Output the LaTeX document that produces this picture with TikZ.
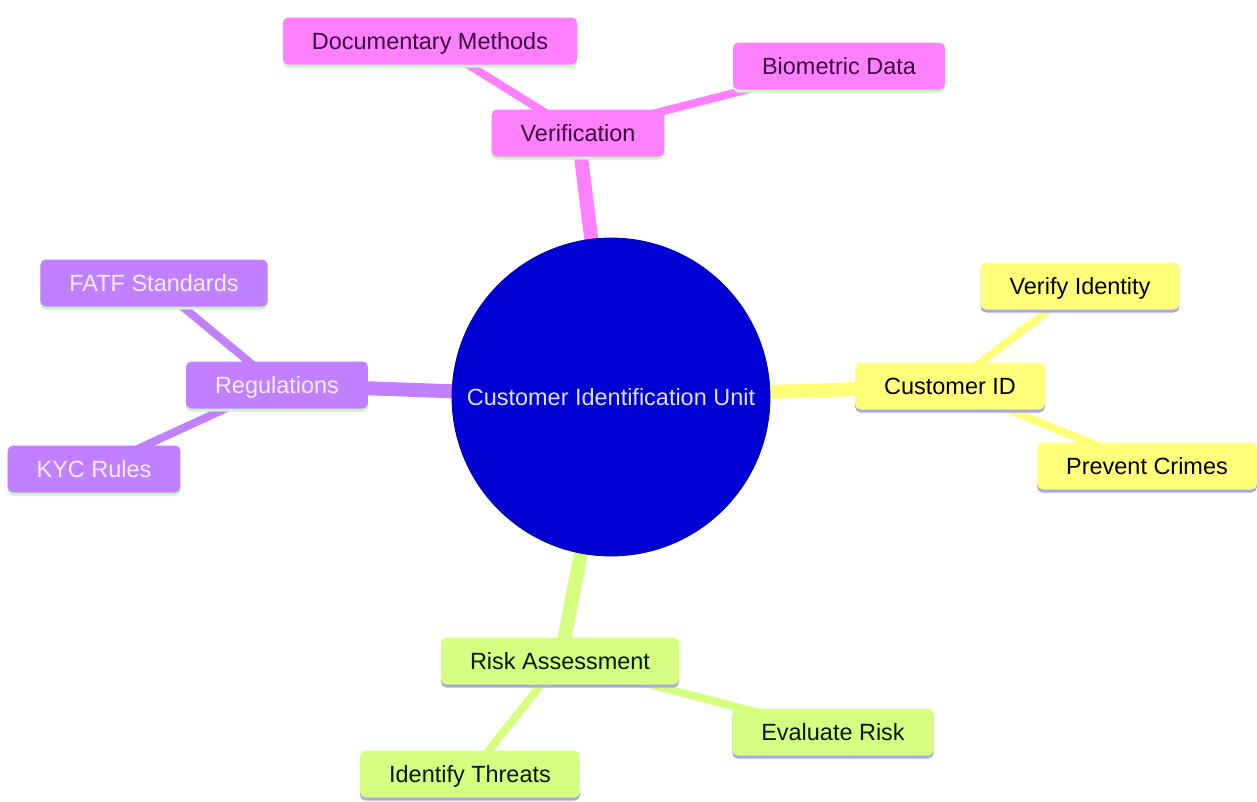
\documentclass[tikz,border=0pt]{standalone}
\usepackage{fontspec}
\setmainfont{Liberation Sans}
\usetikzlibrary{backgrounds,shadows}
\definecolor{pinkF}{HTML}{FF80FF}
\definecolor{pinkT}{HTML}{3A0A3A}
\definecolor{purpF}{HTML}{C080FF}
\definecolor{purpT}{HTML}{F8ECFF}
\definecolor{yelF}{HTML}{FFFF7A}
\definecolor{grnF}{HTML}{D5FF80}
\definecolor{lineG}{HTML}{C8F5C0}
\definecolor{lineL}{HTML}{A8A8E6}
\definecolor{centF}{HTML}{0000D4}
\definecolor{centT}{HTML}{E0E0FF}
\tikzset{
  x=0.75pt, y=-0.75pt,
  txt/.style={font=\fontsize{17.6}{20}\selectfont},
  mbox/.style={txt, rectangle, rounded corners=4pt, inner xsep=21.75pt, inner ysep=0pt,
    minimum height=35.25pt, text height=15.4pt, text depth=2.8pt},
  pinkbox/.style={mbox, fill=pinkF, text=pinkT, general shadow={shadow yshift=-2.25pt, fill=lineG}},
  purpbox/.style={mbox, fill=purpF, text=purpT, general shadow={shadow yshift=-2.25pt, fill=lineG}},
  yelbox/.style={mbox, fill=yelF, text=black, general shadow={shadow yshift=-2.25pt, fill=lineL}},
  grnbox/.style={mbox, fill=grnF, text=black!90!green, general shadow={shadow yshift=-2.25pt, fill=lineL}},
  mainedge/.style={line width=10.5pt},
  subedge/.style={line width=6pt},
}
\begin{document}
\begin{tikzpicture}
\useasboundingbox (0,0) rectangle (1257,801);
\node[circle, fill=centF, draw=centF!80!black, line width=0.6pt, minimum size=238.5pt, inner sep=0pt, txt, text=centT] (root) at (611,397) {Customer Identification Unit};

\node[pinkbox] (ver) at (578,133) {Verification};
\node[pinkbox] (doc) at (430,41) {Documentary Methods};
\node[pinkbox] (bio) at (839,66) {Biometric Data};

\node[purpbox] (reg) at (277,385) {Regulations};
\node[purpbox] (fatf) at (154,283) {FATF Standards};
\node[purpbox] (kyc) at (94,469) {KYC Rules};

\node[yelbox] (cid) at (950,386) {Customer ID};
\node[yelbox] (vid) at (1080,286) {Verify Identity};
\node[yelbox] (pc) at (1147,466) {Prevent Crimes};

\node[grnbox] (risk) at (560,661) {Risk Assessment};
\node[grnbox] (eval) at (833,732) {Evaluate Risk};
\node[grnbox] (thr) at (470,774) {Identify Threats};

\begin{pgfonlayer}{background}
\draw[mainedge, pinkF] (root.center) -- (ver.center);
\draw[subedge, pinkF] (ver.center) -- (doc.center);
\draw[subedge, pinkF] (ver.center) -- (bio.center);
\draw[mainedge, purpF] (root.center) -- (reg.center);
\draw[subedge, purpF] (reg.center) -- (fatf.center);
\draw[subedge, purpF] (reg.center) -- (kyc.center);
\draw[mainedge, yelF] (root.center) -- (cid.center);
\draw[subedge, yelF] (cid.center) -- (vid.center);
\draw[subedge, yelF] (cid.center) -- (pc.center);
\draw[mainedge, grnF] (root.center) -- (risk.center);
\draw[subedge, grnF] (risk.center) -- (eval.center);
\draw[subedge, grnF] (risk.center) -- (thr.center);
\end{pgfonlayer}
\end{tikzpicture}
\end{document}
